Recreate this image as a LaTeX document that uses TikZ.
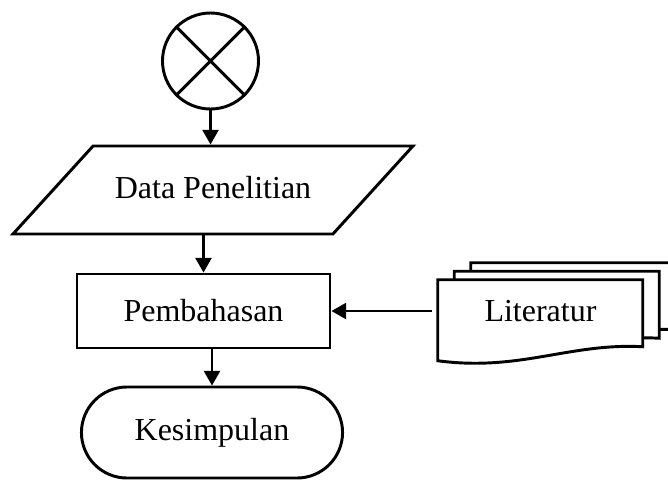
\documentclass[tikz,border=0pt]{standalone}
\usepackage{fontspec}
\setmainfont{Liberation Serif}
\usetikzlibrary{positioning, shapes.geometric, shapes.misc, arrows.meta, calc, backgrounds}

\begin{document}
\begin{tikzpicture}[x=0.75pt, y=-0.75pt,
    every node/.style={font=\fontsize{24}{28}\selectfont},
    box/.style={draw, line width=2.2pt},
    link/.style={-{Triangle[length=11pt, width=12pt]}, line width=1.8pt}]
  \useasboundingbox (0, 0) rectangle (668, 479);

  % Start symbol
  \node[box, circle, minimum size=72pt] (start) at (210.5, 61) {};
  \draw[line width=2.2pt] (start.45) -- (start.225) (start.135) -- (start.315);

  % Flow boxes
  \node[box, trapezium, trapezium left angle=47.7, trapezium right angle=132.3,
        trapezium stretches body=true, minimum width=300pt,
        inner ysep=0pt, text height=39pt, text depth=27pt] (data) at (213, 190) {Data Penelitian};
  \node[box, rectangle, minimum width=189.75pt, minimum height=55.5pt] (bahas) at (203.5, 311) {Pembahasan};
  \node[box, rounded rectangle, minimum width=202.5pt, minimum height=68.25pt] (simpul) at (212, 432.5) {Kesimpulan};

  % Literature, a stack of three sheets
  \node[minimum width=153.75pt, minimum height=46.5pt, inner sep=0pt] (lit) at (540.5, 311) {Literatur};
  \begin{scope}[on background layer]
    \foreach \dx/\dy in {33/-17, 16.5/-8.5, 0/0}
      \draw[box, fill=white, shift={($(lit.north west)+(\dx,\dy)$)}]
        (0, 0) -- (205, 0) -- (205, 67) .. controls (132, 63) and (82, 92) .. (0, 81) -- cycle;
  \end{scope}

  % Arrows
  \draw[link] (start) -- (start |- data.north);
  \draw[link] (bahas |- data.south) -- (bahas.north);
  \draw[link] (simpul |- bahas.south) -- (simpul.north);
  \draw[link, shorten <=4.5pt] (lit.west) -- (bahas.east);
\end{tikzpicture}
\end{document}
